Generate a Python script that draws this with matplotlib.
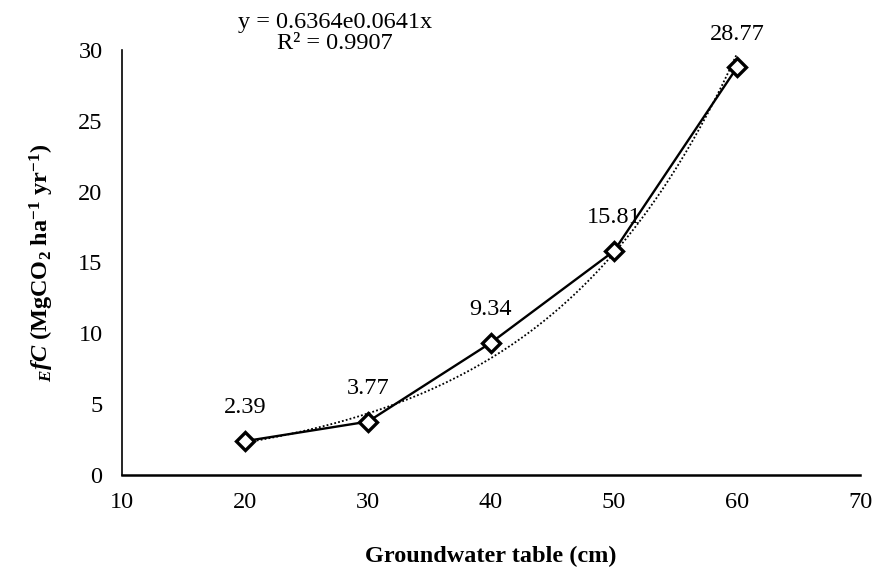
import numpy as np
import matplotlib
matplotlib.use("Agg")
import matplotlib.pyplot as plt

# Data
groundwater = [20, 30, 40, 50, 60]
efc = [2.39, 3.77, 9.34, 15.81, 28.77]
labels = ["2.39", "3.77", "9.34", "15.81", "28.77"]
x_ticks = [10, 20, 30, 40, 50, 60, 70]
y_ticks = [0, 5, 10, 15, 20, 25, 30]
equation = "y = 0.6364e0.0641x\nR² = 0.9907"

plt.rcParams['font.family'] = ['Liberation Serif', 'DejaVu Serif']
plt.rcParams['mathtext.fontset'] = 'custom'
plt.rcParams['mathtext.rm'] = 'Liberation Serif'
plt.rcParams['mathtext.it'] = 'Liberation Serif:italic'
plt.rcParams['mathtext.bf'] = 'Liberation Serif:bold'
plt.rcParams['mathtext.bfit'] = 'Liberation Serif:bold:italic'

FS = 17.5

fig = plt.figure(figsize=(8.74, 5.70), dpi=100)
ax = fig.add_axes([122/874, 95/570, (860-122)/874, (475-50)/570])

# Exponential trendline fitted from data
b, a = np.polyfit(groundwater, np.log(efc), 1)
xs = np.linspace(min(groundwater), max(groundwater), 200)
ax.plot(xs, np.exp(a) * np.exp(b * xs), linestyle=(0, (1, 1.2)), color='black', lw=1.3, zorder=2)

ax.plot(groundwater, efc, color='black', lw=1.7, marker='D', ms=9,
        mfc='white', mec='black', mew=2.4, zorder=3)

for x, y, t in zip(groundwater, efc, labels):
    ax.annotate(t, (x, y), xytext=(0, 24), textcoords='offset points',
                ha='center', va='center', fontsize=FS)

ax.set_xlim(10, 70)
ax.set_ylim(0, 30)
ax.set_xticks(x_ticks)
ax.set_yticks(y_ticks)
ax.tick_params(length=0, labelsize=FS)
ax.tick_params(axis='x', pad=12)
ax.tick_params(axis='y', pad=14)
for s in ['top', 'right']:
    ax.spines[s].set_visible(False)
ax.spines['left'].set_linewidth(1.2)
ax.spines['bottom'].set_linewidth(1.8)

ax.set_xlabel('Groundwater table (cm)', fontsize=FS, fontweight='bold', labelpad=24)
ax.set_ylabel(r'$_{\mathbfit{E}}\mathbfit{fC}$ $\mathbf{(MgCO_2\ ha^{-1}\ yr^{-1})}$',
              fontsize=FS, labelpad=16)

fig.text(335/874, 1 - 33/570, equation, ha='center', va='center', fontsize=FS,
         linespacing=1.05)

fig.savefig('out.png', dpi=100)
